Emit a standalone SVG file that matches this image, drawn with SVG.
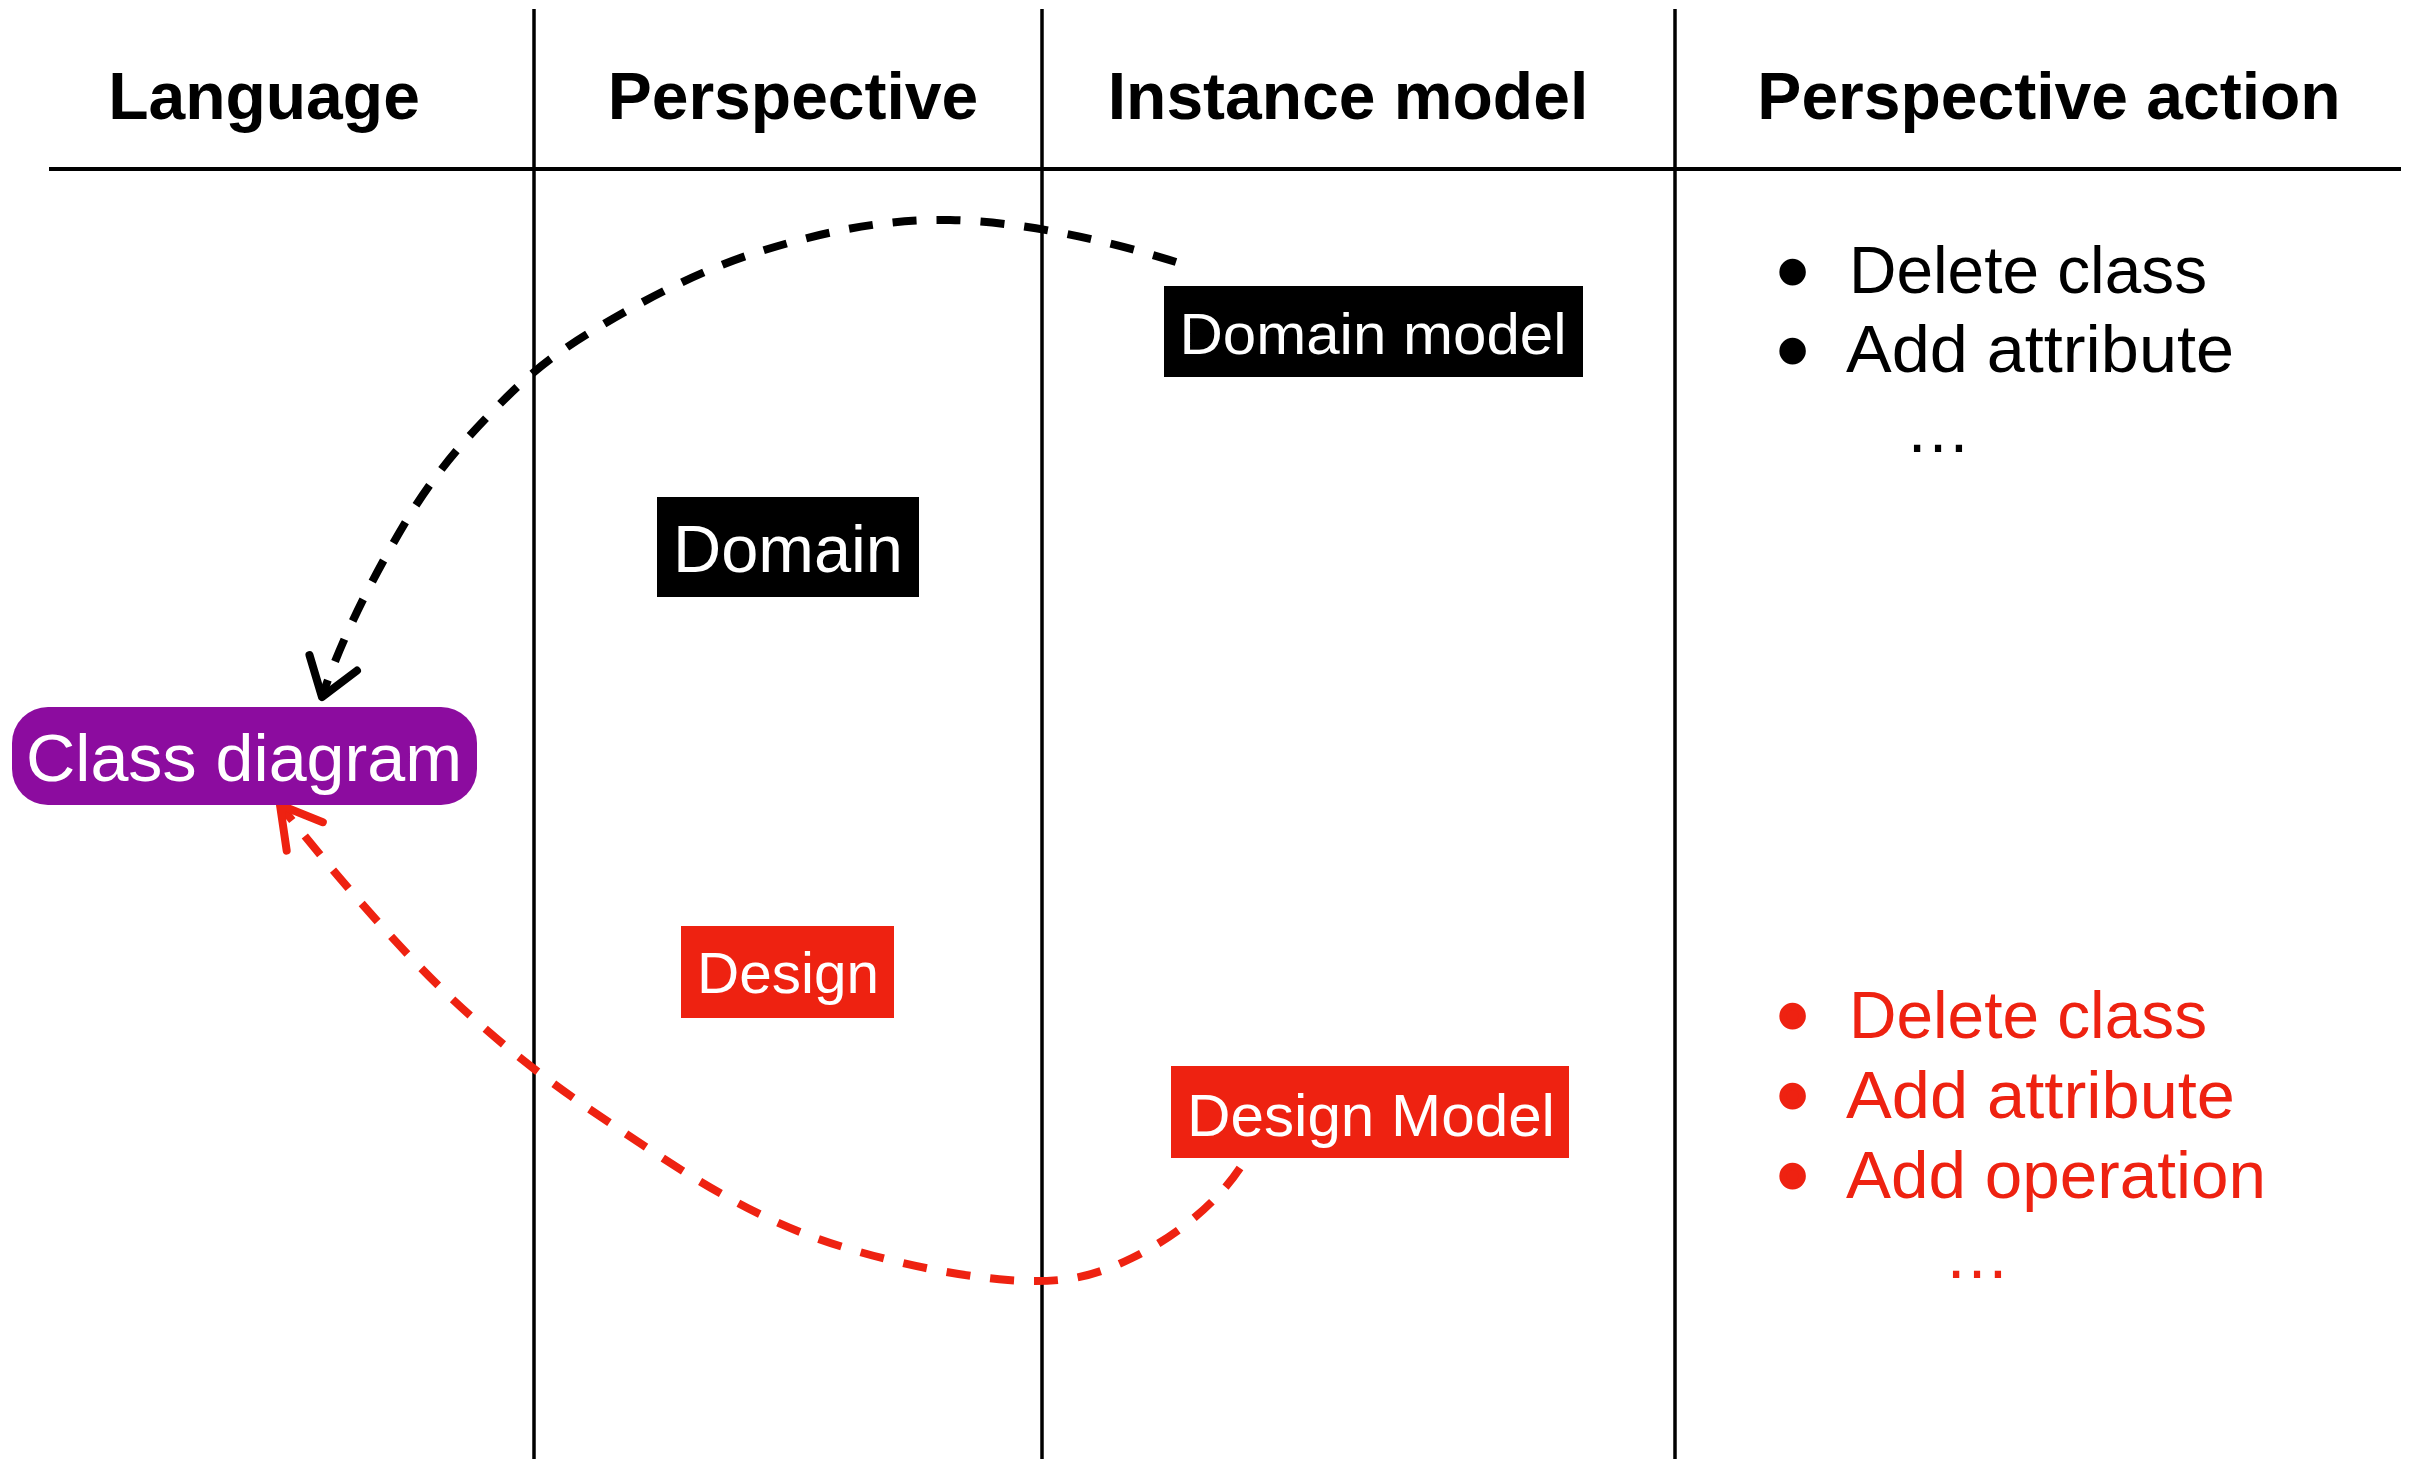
<svg xmlns="http://www.w3.org/2000/svg" width="2413" height="1459" viewBox="0 0 2413 1459">
<style>
.hdr{font-family:"Liberation Sans",Arial,sans-serif;font-weight:bold;font-size:66px;fill:#000;text-anchor:middle}
.lbl{font-family:"Liberation Sans",Arial,sans-serif;fill:#fff;text-anchor:middle}
.item{font-family:"Liberation Sans",Arial,sans-serif;font-size:66px}
.bul{font-size:72px;stroke-width:7;stroke-linejoin:round}
.blk{fill:#000;stroke:#000}
.red{fill:#EE2211;stroke:#EE2211}
.txt{stroke:none}
.grid{stroke:#000;fill:none}
.conn{fill:none;stroke-width:8;stroke-dasharray:24 20}
</style>
<defs>
<marker id="arrBlack" markerUnits="userSpaceOnUse" markerWidth="80" markerHeight="80" viewBox="-50 -40 60 80" refX="0" refY="0" orient="auto">
<path d="M -36,-25 L 0,0 L -36,25" fill="none" stroke="#000" stroke-width="8" stroke-linecap="round" stroke-linejoin="round" stroke-dasharray="none"/>
</marker>
<marker id="arrRed" markerUnits="userSpaceOnUse" markerWidth="80" markerHeight="80" viewBox="-50 -40 60 80" refX="0" refY="0" orient="auto">
<path d="M -40,-23 L 0,0 L -40,23" fill="none" stroke="#EE2211" stroke-width="8" stroke-linecap="round" stroke-linejoin="round" stroke-dasharray="none"/>
</marker>
</defs>
<rect x="0" y="0" width="2413" height="1459" fill="#fff"/>
<g id="grid">
<line class="grid" x1="49" y1="169" x2="2401" y2="169" stroke-width="4"/>
<line class="grid" x1="534" y1="9" x2="534" y2="1459" stroke-width="3.5"/>
<line class="grid" x1="1042" y1="9" x2="1042" y2="1459" stroke-width="3.5"/>
<line class="grid" x1="1675" y1="9" x2="1675" y2="1459" stroke-width="3.5"/>
</g>
<g id="headers">
<text class="hdr" x="264" y="119">Language</text>
<text class="hdr" x="793" y="119">Perspective</text>
<text class="hdr" x="1348" y="119">Instance model</text>
<text class="hdr" x="2049" y="119">Perspective action</text>
</g>
<g id="connectors">
<path class="conn" stroke="#000" marker-end="url(#arrBlack)" d="M 1176,262 C 1103,239 1020,221.5 950,220 C 880,218.5 815,234 755,253 C 695,272 633,306 589,333 C 545,360 522,381 491,413 C 460,445 433,476 405,523 C 377,570 342,636 322,697"/>
<path class="conn" stroke="#EE2211" marker-end="url(#arrRed)" d="M 1240,1168 C 1214,1207 1171,1239 1132,1258 C 1093,1277 1063,1284 1008,1280 C 953,1276 866,1258 800,1232 C 734,1206 672,1165 613,1125 C 554,1086 504,1048 448,995 C 393,942 332,871 280,805"/>
</g>
<g id="node-class-diagram">
<rect x="12" y="707" width="465" height="98" rx="36" ry="36" fill="#8C0C9F"/>
<text class="lbl" x="244" y="781" font-size="67" textLength="436" lengthAdjust="spacingAndGlyphs">Class diagram</text>
</g>
<g id="node-domain">
<rect x="657" y="497" width="262" height="100" fill="#000"/>
<text class="lbl" x="788" y="572" font-size="66" textLength="230" lengthAdjust="spacingAndGlyphs">Domain</text>
</g>
<g id="node-design">
<rect x="681" y="926" width="213" height="92" fill="#EE2211"/>
<text class="lbl" x="788" y="993" font-size="57" textLength="182" lengthAdjust="spacingAndGlyphs">Design</text>
</g>
<g id="node-domain-model">
<rect x="1164" y="286" width="419" height="91" fill="#000"/>
<text class="lbl" x="1373" y="354" font-size="58" textLength="387" lengthAdjust="spacingAndGlyphs">Domain model</text>
</g>
<g id="node-design-model">
<rect x="1171" y="1066" width="398" height="92" fill="#EE2211"/>
<text class="lbl" x="1371" y="1136" font-size="59" textLength="368" lengthAdjust="spacingAndGlyphs">Design Model</text>
</g>
<g id="actions-domain" class="item blk">
<text class="bul" x="1780" y="296">•</text>
<text class="txt" x="1849" y="293" textLength="358" lengthAdjust="spacingAndGlyphs">Delete class</text>
<text class="bul" x="1780" y="375">•</text>
<text class="txt" x="1846" y="372" textLength="388" lengthAdjust="spacingAndGlyphs">Add attribute</text>
<text class="txt" x="1905" y="452">…</text>
</g>
<g id="actions-design" class="item red">
<text class="bul" x="1780" y="1040">•</text>
<text class="txt" x="1849" y="1038" textLength="358" lengthAdjust="spacingAndGlyphs">Delete class</text>
<text class="bul" x="1780" y="1120">•</text>
<text class="txt" x="1846" y="1118" textLength="389" lengthAdjust="spacingAndGlyphs">Add attribute</text>
<text class="bul" x="1780" y="1200">•</text>
<text class="txt" x="1846" y="1198" textLength="420" lengthAdjust="spacingAndGlyphs">Add operation</text>
<text class="txt" x="1944" y="1278">…</text>
</g>
</svg>
